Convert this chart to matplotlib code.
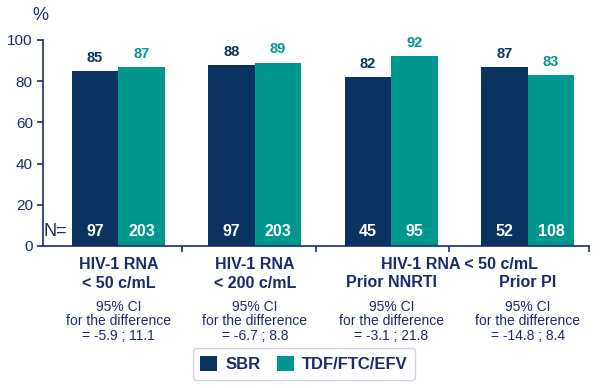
import matplotlib
matplotlib.use("Agg")
import matplotlib.pyplot as plt
from matplotlib.patches import Patch

plt.rcParams['font.family'] = ['Liberation Sans', 'DejaVu Sans']

categories = ["HIV-1 RNA\n< 50 c/mL", "HIV-1 RNA\n< 200 c/mL", "Prior NNRTI", "Prior PI"]
sbr = [85, 88, 82, 87]
tdf = [87, 89, 92, 83]
n_sbr = [97, 97, 45, 52]
n_tdf = [203, 203, 95, 108]
ci_text = ["-5.9 ; 11.1", "-6.7 ; 8.8", "-3.1 ; 21.8", "-14.8 ; 8.4"]
yticks = [0, 20, 40, 60, 80, 100]
series_names = ["SBR", "TDF/FTC/EFV"]

navy = "#0b3361"
teal = "#00978f"
text_navy = "#1c2a6b"

fig = plt.figure(figsize=(6, 3.88), dpi=100)
ax = fig.add_axes([0.072, 0.366, 0.910, 0.531])

w = 0.34
x = list(range(len(categories)))
ax.bar([i - w / 2 for i in x], sbr, width=w, color=navy, zorder=2)
ax.bar([i + w / 2 for i in x], tdf, width=w, color=teal, zorder=2)

for i in x:
    ax.text(i - w / 2, sbr[i] + 3, str(sbr[i]), ha="center", va="bottom",
            color=navy, fontsize=10.5, fontweight="bold")
    ax.text(i + w / 2, tdf[i] + 3, str(tdf[i]), ha="center", va="bottom",
            color=teal, fontsize=10.5, fontweight="bold")
    ax.text(i - w / 2, 7, str(n_sbr[i]), ha="center", va="center",
            color="white", fontsize=11.5, fontweight="bold")
    ax.text(i + w / 2, 7, str(n_tdf[i]), ha="center", va="center",
            color="white", fontsize=11.5, fontweight="bold")

ax.text(-0.545, 7, "N=", ha="left", va="center", color=text_navy, fontsize=13)

ax.set_xlim(-0.55, 3.45)
ax.set_ylim(0, 100)
ax.set_yticks(yticks)
ax.set_yticklabels([str(v) for v in yticks], color=text_navy, fontsize=11)
ax.set_xticks([0.47, 1.45, 2.42, 3.45])
ax.set_xticklabels([])
for s in ["top", "right"]:
    ax.spines[s].set_visible(False)
for s in ["left", "bottom"]:
    ax.spines[s].set_color(text_navy)
    ax.spines[s].set_linewidth(1.2)
ax.tick_params(axis="both", colors=text_navy, length=4, width=1.2)
ax.tick_params(axis="x", direction="out")

fig.text(0.068, 0.96, "%", ha="center", va="center", color=text_navy, fontsize=13)

# category labels below axis
lab_kw = dict(ha="center", va="top", color=text_navy, fontsize=11.5, fontweight="bold")
ax.text(0, -5.5, categories[0], linespacing=1.3, **lab_kw)
ax.text(1, -5.5, categories[1], linespacing=1.3, **lab_kw)
ax.text(2.5, -5.5, "HIV-1 RNA < 50 c/mL", **lab_kw)
ax.text(2, -14.2, categories[2], **lab_kw)
ax.text(3, -14.2, categories[3], **lab_kw)

for i in x:
    ax.text(i, -26.0, "95% CI\nfor the difference\n= " + ci_text[i], ha="center",
            va="top", color=text_navy, fontsize=10, linespacing=1.05)

handles = [Patch(facecolor=navy), Patch(facecolor=teal)]
leg = fig.legend(handles, series_names, loc="center", bbox_to_anchor=(0.507, 0.062),
                 ncol=2, frameon=True, fancybox=True, shadow=False,
                 prop={"weight": "bold", "size": 12}, handlelength=1.0,
                 handleheight=1.0, columnspacing=1.0, handletextpad=0.5,
                 borderpad=0.45, edgecolor="#c8c8d8")
for t in leg.get_texts():
    t.set_color(text_navy)

fig.savefig("out.png", dpi=100)
